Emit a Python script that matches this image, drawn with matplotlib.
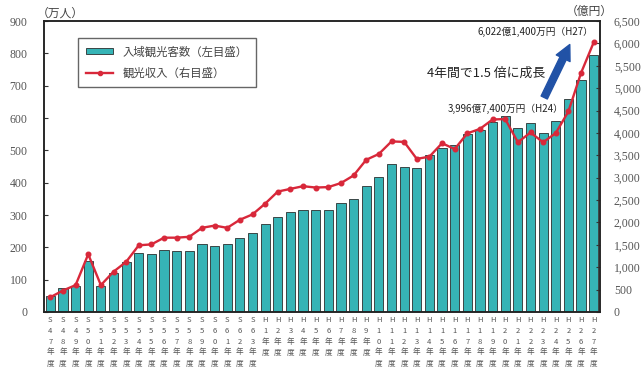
import matplotlib
matplotlib.use("Agg")
import matplotlib.pyplot as plt
from matplotlib.lines import Line2D
from matplotlib.patches import Patch, FancyArrowPatch
import numpy as np

# polices : CJK d'abord, DejaVu en secours
plt.rcParams['font.family'] = ['Noto Sans CJK JP', 'DejaVu Sans']

# années (S47 -> H27)
years = ["S47", "S48", "S49", "S50", "S51", "S52", "S53", "S54", "S55", "S56",
         "S57", "S58", "S59", "S60", "S61", "S62", "S63", "H1", "H2", "H3",
         "H4", "H5", "H6", "H7", "H8", "H9", "H10", "H11", "H12", "H13",
         "H14", "H15", "H16", "H17", "H18", "H19", "H20", "H21", "H22", "H23",
         "H24", "H25", "H26", "H27"]

# 入域観光客数 (万人)
visitors = [48, 75, 80, 158, 80, 122, 155, 182, 179, 191,
            189, 190, 210, 204, 210, 230, 243, 273, 293, 308,
            314, 317, 316, 336, 350, 389, 416, 457, 448, 444,
            486, 508, 515, 550, 564, 588, 605, 569, 586, 553,
            592, 658, 717, 794]

# 観光収入 (億円)
revenue = [330, 480, 600, 1290, 600, 900, 1120, 1490, 1510, 1660,
           1660, 1680, 1880, 1930, 1880, 2060, 2180, 2420, 2690, 2750,
           2810, 2780, 2790, 2880, 3050, 3400, 3530, 3810, 3800, 3420,
           3470, 3770, 3640, 3990, 4090, 4300, 4310, 3790, 4010, 3790,
           3997, 4480, 5340, 6022]

left_ticks = [0, 100, 200, 300, 400, 500, 600, 700, 800, 900]
right_ticks = [0, 500, 1000, 1500, 2000, 2500, 3000, 3500, 4000, 4500,
               5000, 5500, 6000, 6500]

TEAL = '#36b4b6'
RED = '#d8283a'
GREY = '#555555'
W, H = 642, 373

fig = plt.figure(figsize=(W / 100, H / 100), dpi=100)
ax = fig.add_axes([44 / W, 1 - 312 / H, 556 / W, 291 / H])

x = np.arange(len(years))
ax.bar(x, visitors, width=0.72, color=TEAL, edgecolor='#3a4646', linewidth=0.7)
ax.set_xlim(-0.5, len(years) - 0.5)
ax.set_ylim(0, 900)

ax2 = ax.twinx()
ax2.plot(x, revenue, color=RED, lw=1.7, marker='o', markersize=3.3)
ax2.set_ylim(0, 6500)

# axe x : libellés verticaux (un caractère par ligne)
ax.set_xticks(x)
ax.set_xticklabels(["\n".join(y + "年度") for y in years], fontsize=5.5,
                   color=GREY, linespacing=1.45, va='top')
ax.tick_params(axis='x', length=0, pad=3)

ax.set_yticks(left_ticks)
ax.set_yticklabels([str(v) for v in left_ticks], family='Liberation Serif',
                   fontsize=8.5, color=GREY)
ax.tick_params(axis='y', direction='in', length=3, pad=12, color='#333333')

ax2.set_yticks(right_ticks)
ax2.set_yticklabels([f"{v:,}" for v in right_ticks], family='Liberation Serif',
                    fontsize=8.5, color=GREY)
ax2.tick_params(axis='y', direction='in', length=3, pad=10, color='#333333')

for a in (ax, ax2):
    for s in a.spines.values():
        s.set_color('#222222')
        s.set_linewidth(1.1)

# légende
handles = [Patch(facecolor=TEAL, edgecolor='#3a4646', linewidth=0.7),
           Line2D([0], [0], color=RED, lw=1.7, marker='o', markersize=3)]
leg = ax.legend(handles, ["入域観光客数（左目盛）", "観光収入（右目盛）"],
                loc='upper left', bbox_to_anchor=((78 - 44) / 556, (312 - 38) / 291),
                borderaxespad=0, fontsize=8.2, fancybox=False, edgecolor='#666666',
                framealpha=1, borderpad=0.7, labelspacing=0.9, handlelength=2.4,
                handleheight=0.45)
leg.get_frame().set_linewidth(1.0)
for t in leg.get_texts():
    t.set_color('#444444')

# unités
fig.text(37 / W, 1 - 13 / H, "（万人）", fontsize=8.5, color='#444444', va='center')
fig.text(566 / W, 1 - 11 / H, "（億円）", fontsize=8.5, color='#444444', va='center')

# annotations
fig.text(478 / W, 1 - 32 / H, "6,022億1,400万円（H27）", fontsize=7,
         color='#222222', va='center')
fig.text(448 / W, 1 - 109 / H, "3,996億7,400万円（H24）", fontsize=7,
         color='#222222', va='center')
fig.text(427 / W, 1 - 73 / H, "4年間で1.5 倍に成長", fontsize=9.3,
         color='#222222', va='center')
fig.patches.append(FancyArrowPatch(
    (543 / W, 1 - 100 / H), (571 / W, 1 - 42 / H), transform=fig.transFigure,
    arrowstyle="simple,head_width=1.0,head_length=1.0,tail_width=0.45",
    mutation_scale=11, color='#2152a6'))

fig.savefig("out.png", dpi=100)
